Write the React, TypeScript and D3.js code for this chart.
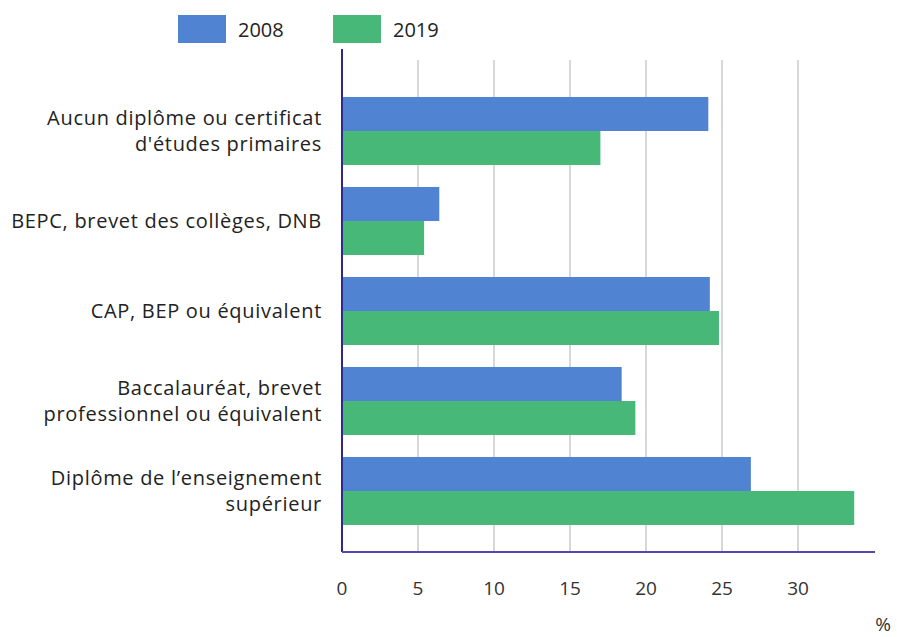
import React from 'react';
import * as d3 from 'd3';

const categories = [
  ["Aucun diplôme ou certificat", "d'études primaires"],
  ['BEPC, brevet des collèges, DNB'],
  ['CAP, BEP ou équivalent'],
  ['Baccalauréat, brevet', 'professionnel ou équivalent'],
  ['Diplôme de l’enseignement', 'supérieur'],
];
const series = ['2008', '2019'];
const values2008 = [24.1, 6.4, 24.2, 18.4, 26.9];
const values2019 = [17.0, 5.4, 24.8, 19.3, 33.7];
const xTicks = [0, 5, 10, 15, 20, 25, 30];

const colors = ['#5183d3', '#48b879'];
const font = '"Open Sans", "Noto Sans", sans-serif';

const App: React.FC = () => {
  const width = 897;
  const height = 637;
  const left = 342;
  const axisTop = 49;
  const gridTop = 60;
  const axisBottom = 552;
  const axisRight = 875;

  const x = d3.scaleLinear().domain([0, 30]).range([left, 798]);
  const keys = categories.map((_, i) => String(i));
  const y = d3.scaleBand().domain(keys).range([86, 536]).paddingInner(0.244).paddingOuter(0.122);
  const inner = d3.scaleBand().domain(series).range([0, y.bandwidth()]);
  const data = [values2008, values2019];

  return (
    <svg width={width} height={height} style={{ position: 'absolute', left: 0, top: 0 }}>
      <rect width={width} height={height} fill="#fff" />
      {/* legend */}
      {series.map((s, i) => (
        <g key={s} transform={`translate(${i === 0 ? 178 : 333},15)`}>
          <rect width={48} height={28} fill={colors[i]} />
          <text x={60} y={22} fontFamily={font} fontSize={20} fill="#222">{s}</text>
        </g>
      ))}
      {/* grid */}
      {xTicks.slice(1).map(t => (
        <line key={t} x1={x(t)} x2={x(t)} y1={gridTop} y2={axisBottom} stroke="#bdbdbd" strokeWidth={1.2} />
      ))}
      {/* bars */}
      {series.map((s, si) =>
        data[si].map((v, i) => (
          <rect
            key={s + i}
            x={x(0)}
            y={(y(String(i)) || 0) + (inner(s) || 0)}
            width={x(v) - x(0)}
            height={inner.bandwidth()}
            fill={colors[si]}
          />
        ))
      )}
      {/* axes */}
      <line x1={left} x2={left} y1={axisTop} y2={axisBottom} stroke="#2e2a8a" strokeWidth={2} />
      <line x1={left} x2={axisRight} y1={axisBottom} y2={axisBottom} stroke="#5548b0" strokeWidth={2} />
      {xTicks.map(t => (
        <text key={t} x={x(t)} y={595} textAnchor="middle" fontFamily={font} fontSize={19} fill="#333">{t}</text>
      ))}
      <text x={883} y={631} textAnchor="middle" fontFamily={font} fontSize={19} fill="#333">%</text>
      {/* category labels */}
      {categories.map((lines, i) => {
        const cy = (y(String(i)) || 0) + y.bandwidth() / 2;
        const start = cy - ((lines.length - 1) * 26) / 2;
        return (
          <text key={i} textAnchor="end" fontFamily={font} fontSize={20} letterSpacing={0.7} fill="#222">
            {lines.map((l, j) => (
              <tspan key={j} x={322} y={start + j * 26 + 7}>{l}</tspan>
            ))}
          </text>
        );
      })}
    </svg>
  );
};

export default App;
